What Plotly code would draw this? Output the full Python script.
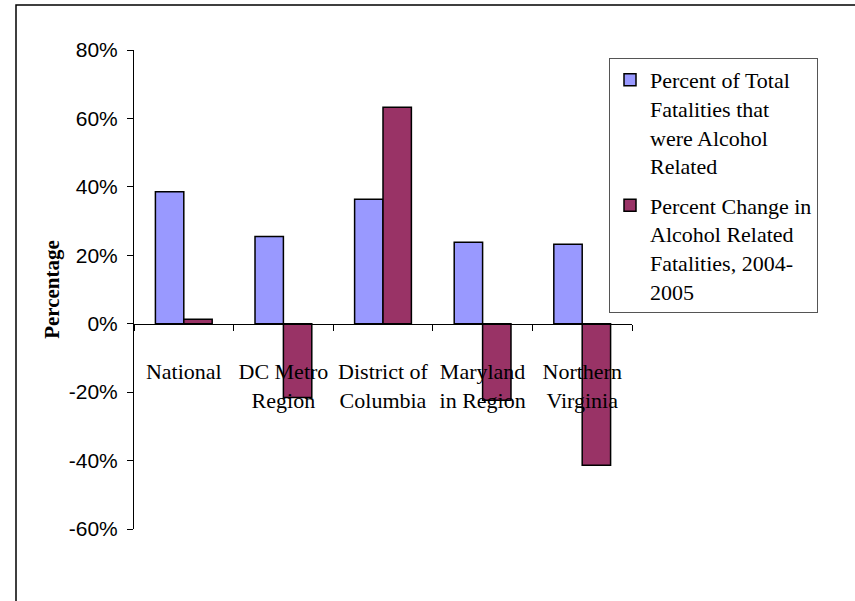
import plotly.graph_objects as go

categories = ["National", "DC Metro<br>Region", "District of<br>Columbia", "Maryland<br>in Region", "Northern<br>Virginia"]
pct_alcohol_related = [0.386, 0.255, 0.364, 0.238, 0.232]
pct_change_2004_2005 = [0.013, -0.216, 0.633, -0.224, -0.414]
series_names = [
    "Percent of Total<br>Fatalities that<br>were Alcohol<br>Related",
    "Percent Change in<br>Alcohol Related<br>Fatalities, 2004-<br>2005",
]
y_tick_values = [-0.6, -0.4, -0.2, 0.0, 0.2, 0.4, 0.6, 0.8]
y_tick_labels = ["-60%", "-40%", "-20%", "0%", "20%", "40%", "60%", "80%"]

serif = "Liberation Serif, Times New Roman, serif"
sans = "Liberation Sans, Arial, sans-serif"

fig = go.Figure()
fig.add_trace(go.Bar(x=categories, y=pct_alcohol_related, name=series_names[0],
                     legendgroup="a",
                     marker=dict(color="#9999FF", line=dict(color="black", width=1.5))))
fig.add_trace(go.Bar(x=categories, y=pct_change_2004_2005, name=series_names[1],
                     legendgroup="b",
                     marker=dict(color="#993366", line=dict(color="black", width=1.5))))

fig.update_layout(
    width=855, height=601,
    font=dict(family=serif, size=22, color="black"),
    margin=dict(l=134, r=223, t=50, b=72, autoexpand=False),
    paper_bgcolor="white", plot_bgcolor="white",
    barmode="group", bargap=0.43, bargroupgap=0,
    showlegend=True,
    legend=dict(x=(609 - 134) / 498, y=(529 - 58) / 479, xanchor="left", yanchor="top",
                bordercolor="#555555", borderwidth=1, bgcolor="white",
                font=dict(family=serif, size=22, color="black"),
                valign="top",
                traceorder="grouped", tracegroupgap=8),
    xaxis=dict(anchor="free", position=0.6 / 1.4, showline=True, linecolor="black", linewidth=1,
               ticks="outside", ticklen=6, tickcolor="black", tickson="boundaries",
               showgrid=False, zeroline=False,
               tickfont=dict(family=serif, size=22, color="black"),
               ticklabelstandoff=28),
    yaxis=dict(range=[-0.6, 0.8], tickvals=y_tick_values, ticktext=y_tick_labels,
               showline=True, linecolor="black", linewidth=1,
               ticks="outside", ticklen=6, tickcolor="black",
               showgrid=False, zeroline=False,
               tickfont=dict(family=sans, size=21, color="black"),
               ticklabelstandoff=5,
               title=dict(text="<b>Percentage</b>", font=dict(family=serif, size=21, color="black"),
                          standoff=3)),
    shapes=[dict(type="rect", xref="paper", yref="paper",
                 x0=(16 - 134) / 498, x1=(900 - 134) / 498,
                 y0=(529 - 700) / 479, y1=(529 - 5) / 479,
                 line=dict(color="black", width=1.5), fillcolor="rgba(0,0,0,0)", layer="below")],
)

fig.write_html("out.html", config={"displayModeBar": False},
               post_script="document.body.style.margin='0';")
